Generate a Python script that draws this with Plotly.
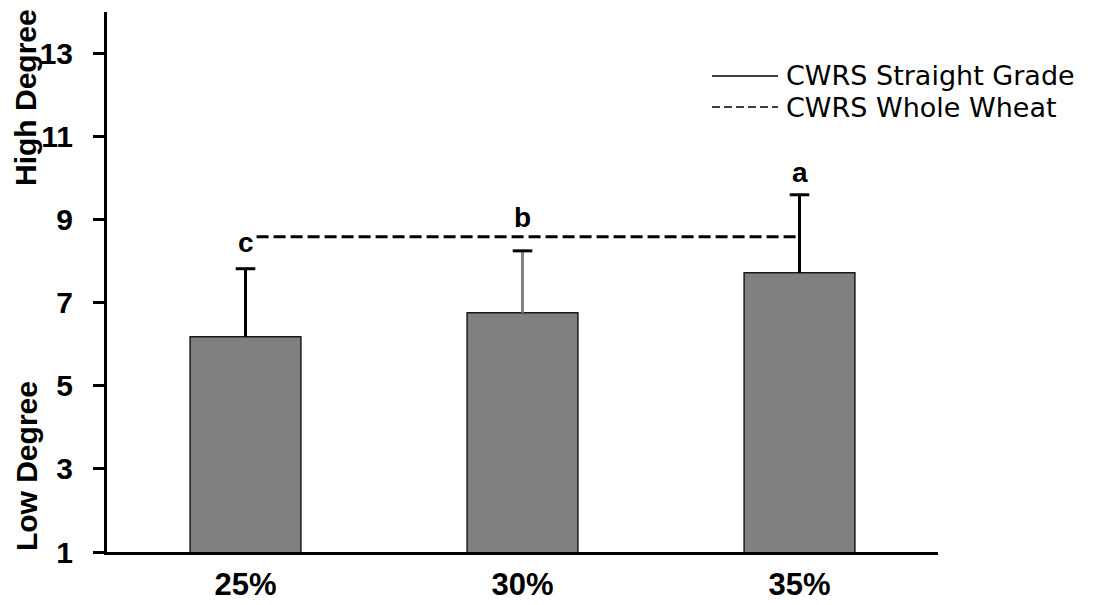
import plotly.graph_objects as go

# Mean scores by flour extraction level
categories = ["25%", "30%", "35%"]
means = [6.18, 6.76, 7.72]
errors = [1.64, 1.49, 1.88]
stem_colors = ["#000000", "#808080", "#000000"]

# Significance letters and where they sit on the y scale
letters = ["c", "b", "a"]
letter_y = [8.45, 9.05, 10.13]

# Whole wheat reference level (dashed line)
whole_wheat_level = 8.59

y_ticks = [1, 3, 5, 7, 9, 11, 13]

FAMILY = "Liberation Sans, Arial, sans-serif"
BOLD = dict(family=FAMILY, size=30, color="black")

fig = go.Figure()

fig.add_trace(go.Bar(
    x=categories, y=means, width=0.4,
    marker=dict(color="#808080", line=dict(color="#1a1a1a", width=1.5)),
    base=0, showlegend=False, hoverinfo="skip",
))

# Upward error stems, one per bar so each can carry its own colour
for cat, m, e, c in zip(categories, means, errors, stem_colors):
    fig.add_trace(go.Scatter(
        x=[cat], y=[m], mode="markers",
        marker=dict(size=0.1, color="rgba(0,0,0,0)"),
        error_y=dict(type="data", symmetric=False, array=[e], arrayminus=[0],
                     color=c, thickness=3, width=0),
        showlegend=False, hoverinfo="skip",
    ))

# Caps on top of the stems
fig.add_trace(go.Scatter(
    x=categories, y=[m + e for m, e in zip(means, errors)], mode="markers",
    marker=dict(symbol="line-ew", size=14, line=dict(color="black", width=3)),
    showlegend=False, hoverinfo="skip",
))

# Whole wheat level, from the first letter across to the last bar
fig.add_shape(type="line", xref="x", yref="y",
              x0=0.04, x1=2.0, y0=whole_wheat_level, y1=whole_wheat_level,
              line=dict(color="black", width=3, dash="12px,5px"))

for cat, txt, ly in zip(categories, letters, letter_y):
    fig.add_annotation(x=cat, y=ly, text="<b>" + txt + "</b>", showarrow=False,
                       font=dict(family=FAMILY, size=28, color="black"),
                       xanchor="center", yanchor="middle")

# Key
key_font = dict(family="DejaVu Sans, Arial, sans-serif", size=27, color="black")
fig.add_shape(type="line", xref="paper", yref="paper",
              x0=0.728, x1=0.8075, y0=0.8815, y1=0.8815,
              line=dict(color="black", width=1.5))
fig.add_shape(type="line", xref="paper", yref="paper",
              x0=0.728, x1=0.8075, y0=0.824, y1=0.824,
              line=dict(color="black", width=1.5, dash="8px,4px"))
fig.add_annotation(xref="paper", yref="paper", x=0.8147, y=0.8815,
                   text="CWRS Straight Grade", showarrow=False,
                   xanchor="left", yanchor="middle", font=key_font)
fig.add_annotation(xref="paper", yref="paper", x=0.8147, y=0.824,
                   text="CWRS Whole Wheat", showarrow=False,
                   xanchor="left", yanchor="middle", font=key_font)

# Y axis end labels
fig.add_annotation(xref="paper", yref="paper", x=-0.0975, y=0.8426,
                   text="<b>High Degree</b>", showarrow=False, textangle=-90,
                   xanchor="center", yanchor="middle", font=BOLD)
fig.add_annotation(xref="paper", yref="paper", x=-0.0975, y=0.159,
                   text="<b>Low Degree</b>", showarrow=False, textangle=-90,
                   xanchor="center", yanchor="middle", font=BOLD)

fig.update_layout(
    width=1096, height=605,
    margin=dict(l=107, r=158, t=12, b=53, autoexpand=False),
    paper_bgcolor="white", plot_bgcolor="white",
    xaxis=dict(
        type="category", range=[-0.5, 2.5], automargin=False,
        showline=True, linecolor="black", linewidth=3,
        ticks="", showgrid=False, zeroline=False,
        tickfont=dict(family=FAMILY, size=31, color="black", weight="bold"),
        ticklabelstandoff=3,
    ),
    yaxis=dict(
        range=[1, 14], tickvals=y_ticks, automargin=False,
        showline=True, linecolor="black", linewidth=3,
        ticks="outside", ticklen=11, tickwidth=3, tickcolor="black",
        showgrid=False, zeroline=False,
        tickfont=dict(family=FAMILY, size=30, color="black", weight="bold"),
        ticklabelstandoff=14,
    ),
)

fig.write_html("out.html")
